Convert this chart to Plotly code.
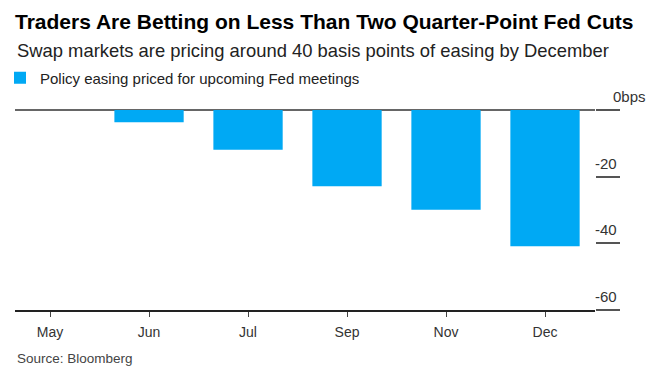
import plotly.graph_objects as go

categories = ["May", "Jun", "Jul", "Sep", "Nov", "Dec"]
easing_bps = [0, -3.7, -11.9, -22.9, -29.9, -40.9]
y_ticks = [0, -20, -40, -60]
y_tick_labels = ["0bps", "-20", "-40", "-60"]

title = "Traders Are Betting on Less Than Two Quarter-Point Fed Cuts"
subtitle = "Swap markets are pricing around 40 basis points of easing by December"
series_name = "Policy easing priced for upcoming Fed meetings"
source = "Source: Bloomberg"

FONT = "Liberation Sans"
W, H = 660, 376
L, R, T, B = 15, 65, 109.5, 66

fig = go.Figure()
fig.add_trace(go.Bar(
    x=categories, y=easing_bps, name=series_name,
    marker=dict(color="#00A9F4", line=dict(width=0)),
    width=0.70, showlegend=True,
))

annotations = [
    dict(text=subtitle, xref="paper", yref="paper", x=0, y=1, xanchor="left", yanchor="middle",
         yshift=(T - 50), showarrow=False, font=dict(family=FONT, size=18.4, color="#222")),
    dict(text=source, xref="paper", yref="paper", x=0, y=0, xanchor="left", yanchor="middle",
         yshift=-(358 - (H - B)), showarrow=False, font=dict(family=FONT, size=13.5, color="#444")),
]
for v, lab in zip(y_ticks, y_tick_labels):
    if lab.endswith("bps"):
        # number right-aligned with the others, unit hanging to the right
        annotations.append(dict(text=lab, xref="paper", yref="y", x=1, y=v, xanchor="left",
                                yanchor="middle", xshift=24 - 8.5, yshift=13.5, showarrow=False,
                                font=dict(family=FONT, size=15, color="#333")))
    else:
        annotations.append(dict(text=lab, xref="paper", yref="y", x=1, y=v, xanchor="right",
                                yanchor="middle", xshift=24, yshift=13.5, showarrow=False,
                                font=dict(family=FONT, size=15, color="#333")))

fig.update_layout(
    width=W, height=H,
    margin=dict(l=L, r=R, t=T, b=B, pad=0),
    paper_bgcolor="white", plot_bgcolor="white",
    title=dict(text="<b>" + title + "</b>", xref="container", x=15 / W, xanchor="left",
               yref="container", y=1 - 22 / H, yanchor="middle", pad=dict(l=0, r=0, t=0, b=0),
               font=dict(family=FONT, size=21, color="#000")),
    legend=dict(orientation="h", xref="container", x=-7 / W, xanchor="left",
                yref="container", y=1 - 78 / H, yanchor="middle",
                font=dict(family=FONT, size=15, color="#222"),
                itemwidth=30, bgcolor="rgba(0,0,0,0)"),
    xaxis=dict(type="category", range=[-0.354, 5.505], showgrid=False,
               showline=True, linecolor="#222", linewidth=1.5,
               ticks="outside", ticklen=5, tickcolor="#444", tickwidth=1,
               tickfont=dict(family=FONT, size=14, color="#333"),
               ticklabelstandoff=3, zeroline=False),
    yaxis=dict(range=[-60, 0], side="right", showgrid=False, showline=False,
               zeroline=True, zerolinecolor="#666", zerolinewidth=1.5,
               tickvals=y_ticks, ticks="outside", ticklen=24, tickcolor="#555", tickwidth=1.5,
               showticklabels=False),
    bargap=0.3,
    annotations=annotations,
)

fig.write_html("out.html", config={"displayModeBar": False},
               post_script="document.body.style.margin='0';")
